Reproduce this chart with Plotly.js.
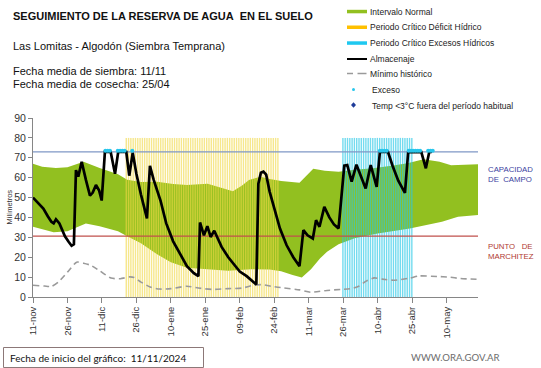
<!DOCTYPE html>
<html><head><meta charset="utf-8">
<script src="https://cdn.plot.ly/plotly-3.0.1.min.js"></script>
<style>html,body{margin:0;padding:0;background:#fff}#chart{width:541px;height:368px}</style>
</head><body><div id="chart"></div>
<script>
// ---- data (x values are days since the chart start date, 11/11/2024) ----
const startMs = Date.UTC(2024, 10, 11);
const axisEndDay = 193.7;

const tickDates = ['2024-11-11','2024-11-26','2024-12-11','2024-12-26','2025-01-10','2025-01-25','2025-02-09','2025-02-24','2025-03-11','2025-03-26','2025-04-10','2025-04-25','2025-05-10'];
const tickLabels = ['11-nov','26-nov','11-dic','26-dic','10-ene','25-ene','09-feb','24-feb','11-mar','26-mar','10-abr','25-abr','10-may'];

const normalUpperDays = [0,4,10,15,22,29,37,41,47,54,61,67,76,84,87,91,94,99,103,108,113,116,119,122,127,133,140,148,156,163,170,177,182,186,194];
const normalUpperVals = [67,65.5,64.8,65.3,68,64.8,61.7,59,57.8,58,56.8,56.3,57,54.3,53.2,56,58.8,60.5,59.3,58.3,57.6,57.5,61,64.5,63.5,63,64,64.7,66,67.2,69.3,68,66.2,66.3,66.8];

const normalLowerDays = [0,4,9,15,20,23,29,37,41,47,54,60,67,76,85,95,103,108,113,117,121,125,128,133,140,150,164,178,185,194];
const normalLowerVals = [35.3,34,32.6,33,35.5,37,35.6,33,30.5,27,21.5,17.5,14.7,13.8,13.2,14,13.8,13,11,9.8,14,19.5,22.7,26.5,29.5,31.9,34.4,37.8,40.3,41.2];

const minHistDays = [0,5,8,11,15,19,22,25,29,34,38,42,44,47,51,55,60,67,72,78,85,91,96,100,104,109,116,121,128,134,139,142,145,148.5,152,157,164,168,176,181,186,194];
const minHistVals = [5.9,5.5,5.3,7.5,12.5,17.5,17,16,13.2,9.5,9.2,10.1,9.8,7.5,5,4,4.2,5.4,4.5,3.8,4.2,4.5,5.9,6.2,5.3,4.6,3.6,2.4,3.3,3.8,4.3,5.5,8,9.6,9,8.4,9.5,10.6,10.3,10,9.3,8.9];

const almDays = [0,2,4.5,6.5,8,9,10,11.5,13.9,15.5,16.8,17.8,18.7,19.7,21.2,23,24.8,26,27.4,28.8,29.9,31.3,33.8,35.7,37.1,40.6,41.9,43.4,45,47,49.6,50.9,52.5,55.5,58,61,64,67,70,72,72.7,74.4,75.9,77.3,78.9,82.1,85,87.2,90,93,96.9,97.2,98.1,99.2,100.3,101.5,103,104.6,107.5,110.4,113.3,116,117.7,119.5,121.8,123.2,124.7,126.8,129,131,133,135.5,136.8,138.7,140.8,144.8,147,149.6,151,154.5,156.5,159,161.9,163.3,169,171,172.5,173.6];
const almVals = [50,47.5,44.5,40.5,37.8,37,39,37,30.5,27.8,25.8,26.5,63.8,60.5,68,59,51,52.5,56.3,53.5,48.5,73,73,62,73,73,61,72.5,62,51.5,39.5,66,59,48.5,37,28,22,15.5,12,10.5,37.5,31,35.6,30.2,33.3,25.2,20,16.8,12.8,10.5,6.5,6.3,57,62.5,63,61.5,53,46.2,34.4,26,20,15.5,33.6,31,29.4,38.6,35.3,45.3,40,36.5,34.5,66,66.3,58,66.5,54.6,66.3,55.4,73,73,66,58.5,52.4,72.8,73,64.7,73,73];

const excesoDays = [31.5,32.5,33.5,36.9,37.9,38.9,39.9,43.2,151,152,153,154,163.5,164.5,165.5,166.5,167.5,168.5,172,173,174];
const excesoVals = [73.5,73.5,73.5,73.5,73.5,73.5,73.5,73.5,73.5,73.5,73.5,73.5,73.5,73.5,73.5,73.5,73.5,73.5,73.5,73.5,73.5];

const deficitPeriod = [40.6, 107];   // Periodo Crítico Déficit Hídrico
const excesoPeriod = [134.9, 165];   // Periodo Crítico Excesos Hídricos
const periodTop = 80;
const capacidadCampo = 73;
const puntoMarchitez = 30.6;

// ---- helpers ----
function d2s(d){ return new Date(startMs + d*86400000).toISOString().replace('T',' ').replace('Z',''); }
const toX = a => a.map(d2s);
function stripes(p){
  const x=[], y=[];
  for(let d=p[0]; d<=p[1]+0.01; d+=1){ x.push(d2s(d), d2s(d), null); y.push(0, periodTop, null); }
  return {x, y};
}
const L = 33, R = 478, T = 118, B = 297;
const px = v => (v - L)/(R - L);
const py = v => (B - v)/(B - T);

const GREEN = 'rgb(146,192,32)';
const FONT = 'Liberation Sans, Arial, sans-serif';

const sDef = stripes(deficitPeriod), sExc = stripes(excesoPeriod);
const xr = [d2s(0), d2s(axisEndDay)];

const traces = [
  {x: toX(normalLowerDays), y: normalLowerVals, mode:'lines', line:{width:0, color:GREEN}, hoverinfo:'skip'},
  {x: toX(normalUpperDays), y: normalUpperVals, mode:'lines', fill:'tonexty', fillcolor:GREEN, line:{width:0, color:GREEN}, name:'Intervalo Normal'},
  {x: sDef.x, y: sDef.y, mode:'lines', line:{width:1.4, color:'rgba(240,216,70,0.62)'}, name:'Periodo Crítico Déficit Hídrico'},
  {x: sExc.x, y: sExc.y, mode:'lines', line:{width:1.4, color:'rgba(40,200,230,0.65)'}, name:'Periodo Crítico Excesos Hídricos'},
  {x: xr, y: [capacidadCampo, capacidadCampo], mode:'lines', line:{width:1.2, color:'#7f97c6'}},
  {x: xr, y: [puntoMarchitez, puntoMarchitez], mode:'lines', line:{width:1.2, color:'#c0504d'}},
  {x: toX(minHistDays), y: minHistVals, mode:'lines', line:{width:1.6, color:'#9a9a9a', dash:'6px,4px', shape:'spline', smoothing:0.6}, name:'Mínimo histórico'},
  {x: toX(almDays), y: almVals, mode:'lines', line:{width:2.7, color:'#000'}, name:'Almacenaje'},
  {x: toX(excesoDays), y: excesoVals, mode:'markers', marker:{size:4, color:'#28c6ec', symbol:'circle'}, name:'Exceso'}
];

const ann = [];
function txt(t, x, y, size, opt){
  ann.push(Object.assign({text:t, x:px(x), y:py(y), xref:'paper', yref:'paper', xanchor:'left', yanchor:'middle', showarrow:false, font:{family:FONT, size:size, color:'#111'}}, opt||{}));
}
txt('<b>SEGUIMIENTO DE LA RESERVA DE AGUA\u00a0 EN EL SUELO</b>', 11, 15.5, 11);
txt('Las Lomitas - Algodón (Siembra Temprana)', 11, 46, 11);
txt('Fecha media de siembra: 11/11', 11, 70.5, 11);
txt('Fecha media de cosecha: 25/04', 11, 83.5, 11);

const legendItems = ['Intervalo Normal','Periodo Crítico Déficit Hídrico','Periodo Crítico Excesos Hídricos','Almacenaje','Mínimo histórico','Exceso','Temp <3°C fuera del período habitual'];
const legendY = [11.7, 27, 43, 59, 73.5, 90, 105.5];
legendItems.forEach((t,i)=>txt(t, i>=5 ? 370 : 368, legendY[i], 8.5, {font:{family:FONT, size:8.5, color:'#222'}}));

txt('CAPACIDAD<br>DE\u00a0\u00a0CAMPO', 486, 174.5, 7.8, {font:{family:FONT, size:7.8, color:'#3b3fa0'}, align:'left'});
txt('PUNTO\u00a0\u00a0 DE<br>MARCHITEZ', 486, 251.5, 7.8, {font:{family:FONT, size:7.8, color:'#b03a32'}, align:'left'});
txt('Milímetros', 9, 207.5, 7.5, {xanchor:'center', textangle:-90, font:{family:FONT, size:7.5, color:'#333'}});
txt('Fecha de inicio del gráfico:\u00a0 11/11/2024', 8, 357.5, 10, {font:{family:'Lato, sans-serif', size:10, color:'#111'}});
txt('WWW.ORA.GOV.AR', 409, 357, 9.6, {font:{family:'Lato, sans-serif', size:9.6, color:'#6d6d6d'}});

const shapes = [
  {type:'rect', xref:'paper', yref:'paper', x0:px(347), x1:px(367), y0:py(13.3), y1:py(9.8), fillcolor:GREEN, line:{width:0}},
  {type:'rect', xref:'paper', yref:'paper', x0:px(347), x1:px(367), y0:py(29), y1:py(25.5), fillcolor:'#ffc000', line:{width:0}},
  {type:'rect', xref:'paper', yref:'paper', x0:px(347), x1:px(367), y0:py(44.8), y1:py(41.3), fillcolor:'#1ec8f0', line:{width:0}},
  {type:'line', xref:'paper', yref:'paper', x0:px(347), x1:px(367), y0:py(59), y1:py(59), line:{width:2, color:'#000'}},
  {type:'line', xref:'paper', yref:'paper', x0:px(347), x1:px(353), y0:py(73.5), y1:py(73.5), line:{width:1.5, color:'#9a9a9a'}},
  {type:'line', xref:'paper', yref:'paper', x0:px(357.5), x1:px(366.5), y0:py(73.5), y1:py(73.5), line:{width:1.5, color:'#9a9a9a'}},
  {type:'circle', xref:'paper', yref:'paper', x0:px(352), x1:px(355), y0:py(91), y1:py(88), fillcolor:'#28c6ec', line:{width:0}},
  {type:'path', xref:'paper', yref:'paper', path:`M ${px(353.5)},${py(102.3)} L ${px(356)},${py(105)} L ${px(353.5)},${py(107.7)} L ${px(351)},${py(105)} Z`, fillcolor:'#1f3c99', line:{width:0}},
  {type:'rect', xref:'paper', yref:'paper', x0:px(3.5), x1:px(203.5), y0:py(367.5), y1:py(347.5), fillcolor:'rgba(0,0,0,0)', line:{width:1, color:'#8c7878'}}
];

const layout = {
  width:541, height:368, margin:{l:L, r:541-R, t:T, b:368-B}, showlegend:false,
  paper_bgcolor:'#fff', plot_bgcolor:'#fff', font:{family:FONT, color:'#333'},
  xaxis:{type:'date', range:xr, tickvals:tickDates, ticktext:tickLabels, tickangle:-90, ticks:'outside', ticklen:5, tickcolor:'#868686',
         showline:true, linecolor:'#868686', linewidth:1, showgrid:false, zeroline:false, tickfont:{family:FONT, size:9.5, color:'#333'}},
  yaxis:{range:[0,90], dtick:10, tick0:0, ticks:'outside', ticklen:4, tickcolor:'#868686', showline:true, linecolor:'#868686', linewidth:1,
         showgrid:false, zeroline:false, tickfont:{family:FONT, size:10.5, color:'#333'}},
  annotations: ann, shapes: shapes
};
Plotly.newPlot('chart', traces, layout, {staticPlot:true, displayModeBar:false});
</script></body></html>
